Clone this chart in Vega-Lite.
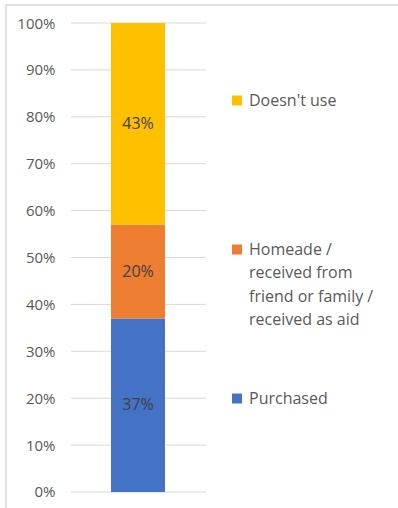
{
  "$schema": "https://vega.github.io/schema/vega-lite/v6.json",
  "width": 394,
  "height": 505,
  "autosize": {"type": "none"},
  "padding": {"left": 6, "top": 5, "right": -2, "bottom": -2},
  "background": "white",
  "config": {
    "view": {"stroke": "#D9D9D9", "strokeWidth": 1.5},
    "font": "Open Sans",
    "style": {"guide-label": {"lineHeight": 23.5}}
  },
  "datasets": {
    "shares": [
      {"category": "Series", "response": "Purchased", "share": 0.37, "rank": 1},
      {"category": "Series", "response": "Homeade", "share": 0.20, "rank": 2},
      {"category": "Series", "response": "Doesn't use", "share": 0.43, "rank": 3}
    ],
    "grid": [
      {"tick": 0}, {"tick": 0.1}, {"tick": 0.2}, {"tick": 0.3}, {"tick": 0.4}, {"tick": 0.5},
      {"tick": 0.6}, {"tick": 0.7}, {"tick": 0.8}, {"tick": 0.9}, {"tick": 1}
    ]
  },
  "layer": [
    {
      "data": {"name": "grid"},
      "mark": {"type": "rule", "color": "#D9D9D9", "strokeWidth": 1},
      "encoding": {
        "y": {
          "field": "tick",
          "type": "quantitative",
          "scale": {"domain": [-0.0384, 1.0384], "nice": false, "zero": false},
          "axis": {
            "values": [0, 0.1, 0.2, 0.3, 0.4, 0.5, 0.6, 0.7, 0.8, 0.9, 1],
            "format": ".0%",
            "grid": false,
            "domain": false,
            "ticks": false,
            "labelPadding": 2,
            "offset": -51,
            "title": null,
            "labelFont": "Open Sans",
            "labelFontSize": 15,
            "labelColor": "#595959"
          }
        },
        "x": {
          "datum": "Series",
          "type": "nominal",
          "bandPosition": -0.7407,
          "scale": {"paddingInner": 0.68235, "paddingOuter": 1, "align": 0.30882},
          "axis": null
        },
        "x2": {"datum": "Series", "bandPosition": 1.7593}
      }
    },
    {
      "data": {"name": "shares"},
      "mark": {"type": "bar"},
      "encoding": {
        "x": {"field": "category", "type": "nominal", "axis": null},
        "y": {"field": "share", "type": "quantitative", "stack": "zero"},
        "color": {
          "field": "response",
          "type": "nominal",
          "scale": {
            "domain": ["Doesn't use", "Homeade", "Purchased"],
            "range": ["#FFC000", "#ED7D31", "#4472C4"]
          },
          "legend": {
            "orient": "none",
            "legendX": 223,
            "legendY": 87.5,
            "title": null,
            "padding": 0,
            "symbolType": "square",
            "symbolSize": 100,
            "symbolStrokeWidth": 0,
            "labelFont": "Open Sans",
            "labelFontSize": 16,
            "labelColor": "#595959",
            "labelOffset": 4,
            "labelLimit": 250,
            "rowPadding": 62,
            "labelExpr": "datum.label == 'Homeade' ? ['Homeade /', 'received from', 'friend or family /', 'received as aid'] : datum.label == 'Doesn\\'t use' ? ['Doesn\\'t use', ' ', ' ', ' '] : datum.label"
          }
        },
        "order": {"field": "rank", "type": "quantitative"}
      }
    },
    {
      "data": {"name": "shares"},
      "mark": {"type": "text", "font": "Open Sans", "fontSize": 16, "color": "#404040"},
      "encoding": {
        "x": {"field": "category", "type": "nominal", "axis": null},
        "y": {"field": "share", "type": "quantitative", "stack": "zero", "bandPosition": 0.5},
        "detail": {"field": "response", "type": "nominal"},
        "order": {"field": "rank", "type": "quantitative"},
        "text": {"field": "share", "type": "quantitative", "format": ".0%"}
      }
    }
  ]
}
